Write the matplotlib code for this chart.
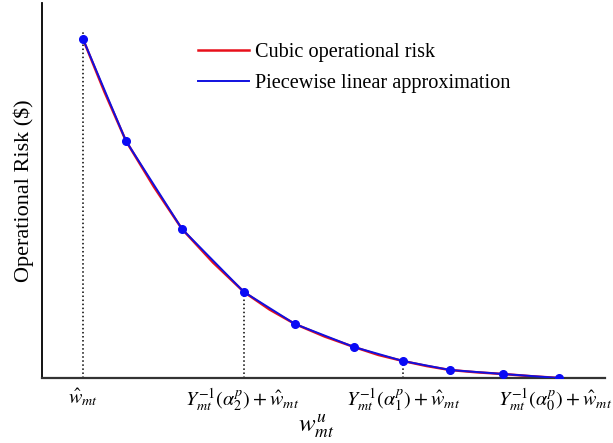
import matplotlib
matplotlib.use("Agg")
import matplotlib.pyplot as plt

plt.rcParams['font.family'] = ['Liberation Serif', 'DejaVu Serif']
plt.rcParams['mathtext.fontset'] = 'stix'

# Piecewise linear knots (blue)
knot_x = [41, 84, 140, 202, 253, 312, 361, 408, 461, 517]
knot_y = [339, 237, 149, 86, 54, 31, 17, 8, 4, 0]

# Cubic operational risk curve samples (red)
cubic_x = [41, 62.5, 84, 112, 140, 171, 202, 227.5, 253, 282.5, 312, 336.5,
           361, 384.5, 408, 434.5, 461, 489, 517]
cubic_y = [339, 286, 237, 191, 149, 115.5, 86, 68.5, 54, 41.5, 31, 23,
           17, 12, 8, 5.7, 4, 1.8, 0]

# Dotted guide lines: x positions and their top heights
guide_x = [41, 202, 361]
guide_top = [346, 86, 17]

tick_pos = [41, 200, 361, 513]
tick_labels = [r'$\hat{w}_{mt}$',
               r'$Y_{mt}^{-1}(\alpha_2^{p})+\hat{w}_{mt}$',
               r'$Y_{mt}^{-1}(\alpha_1^{p})+\hat{w}_{mt}$',
               r'$Y_{mt}^{-1}(\alpha_0^{p})+\hat{w}_{mt}$']

fig = plt.figure(figsize=(6.13, 4.43), dpi=100)
ax = fig.add_axes([42/613, 65/443, 563/613, 375/443])

for gx, gt in zip(guide_x, guide_top):
    ax.plot([gx, gx], [0, gt], color='black', linestyle=':', linewidth=1.1, zorder=1)

ax.plot(cubic_x, cubic_y, color='#e8101a', linewidth=1.8, label='Cubic operational risk', zorder=2)
ax.plot(knot_x, knot_y, color='#1010e0', linewidth=1.4, label='Piecewise linear approximation', zorder=3)
ax.plot(knot_x, knot_y, linestyle='none', marker='o', markersize=5.5, color='#0a0af5', zorder=4)

ax.set_xlim(0, 563)
ax.set_ylim(0, 375)
ax.spines['top'].set_visible(False)
ax.spines['right'].set_visible(False)
ax.spines['left'].set_linewidth(1.3)
ax.spines['bottom'].set_linewidth(1.6)
ax.spines['bottom'].set_color('#333333')
ax.set_yticks([])
ax.set_xticks(tick_pos)
ax.set_xticklabels(tick_labels, fontsize=14.5)
ax.tick_params(axis='x', length=0, pad=6)

ax.set_ylabel('Operational Risk ($)', fontsize=16, labelpad=6)
ax.set_xlabel(r'$w_{mt}^{u}$', fontsize=18)
ax.xaxis.set_label_coords((316 - 42) / 563, -0.092)

leg = ax.legend(loc='upper left', bbox_to_anchor=(0.277, 0.894), frameon=False,
                fontsize=14.6, handlelength=2.5, handletextpad=0.3,
                labelspacing=0.6, borderpad=0, borderaxespad=0)

fig.savefig('out.png', dpi=100)
